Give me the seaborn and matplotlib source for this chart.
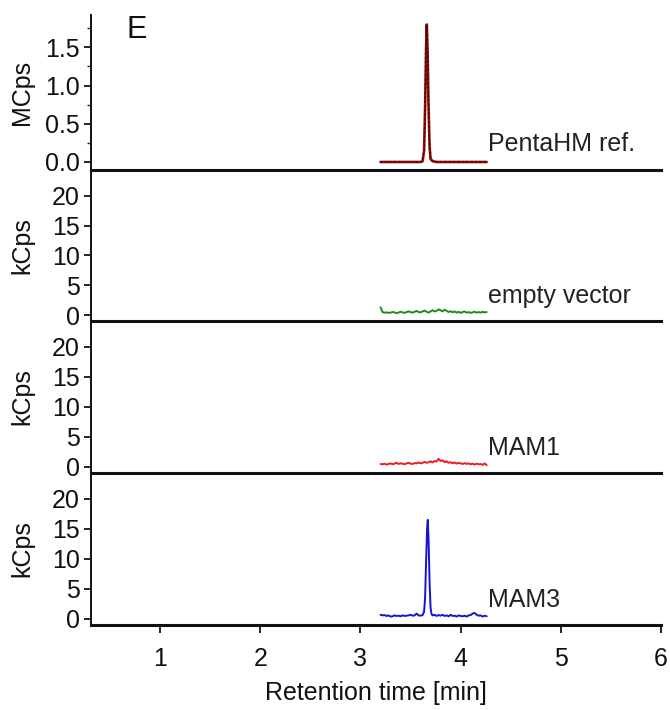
import matplotlib
matplotlib.use("Agg")
import matplotlib.pyplot as plt
from matplotlib.ticker import MultipleLocator
import seaborn as sns

# ---------------- data ----------------
panel_labels = ["PentaHM ref.", "empty vector", "MAM1", "MAM3"]
y_units = ["MCps", "kCps", "kCps", "kCps"]
x_ticks = [1, 2, 3, 4, 5, 6]

# PentaHM reference (MCps)
rt_ref = [3.20, 3.24, 3.28, 3.32, 3.36, 3.40, 3.44, 3.48, 3.52, 3.56, 3.60, 3.62,
          3.635, 3.645, 3.655, 3.662, 3.67, 3.68, 3.69, 3.70, 3.72, 3.76, 3.80,
          3.84, 3.88, 3.92, 3.96, 4.00, 4.04, 4.08, 4.12, 4.16, 4.20, 4.24, 4.26]
int_ref = [0.0, 0.0, 0.0, 0.0, 0.0, 0.0, 0.0, 0.0, 0.0, 0.0, 0.0, 0.01,
           0.15, 0.70, 1.50, 1.80, 1.45, 0.70, 0.20, 0.04, 0.01, 0.0, 0.0,
           0.0, 0.0, 0.0, 0.0, 0.0, 0.0, 0.0, 0.0, 0.0, 0.0, 0.0, 0.0]

# common retention time grid for the noise traces (min)
rt_noise = [3.20, 3.22, 3.24, 3.26, 3.28, 3.30, 3.32, 3.34, 3.36, 3.38, 3.40, 3.42,
            3.44, 3.46, 3.48, 3.50, 3.52, 3.54, 3.56, 3.58, 3.60, 3.62, 3.64, 3.66,
            3.68, 3.70, 3.72, 3.74, 3.76, 3.78, 3.80, 3.82, 3.84, 3.86, 3.88, 3.90,
            3.92, 3.94, 3.96, 3.98, 4.00, 4.02, 4.04, 4.06, 4.08, 4.10, 4.12, 4.14,
            4.16, 4.18, 4.20, 4.22, 4.24, 4.26]

# empty vector (kCps)
int_empty = [1.3, 0.5, 0.4, 0.45, 0.35, 0.4, 0.5, 0.45, 0.3, 0.4, 0.55, 0.45,
             0.35, 0.5, 0.6, 0.5, 0.4, 0.55, 0.7, 0.5, 0.45, 0.6, 0.75, 0.55,
             0.4, 0.6, 0.8, 0.6, 0.7, 0.95, 0.8, 0.6, 0.9, 0.7, 0.5, 0.65,
             0.45, 0.6, 0.4, 0.55, 0.35, 0.5, 0.6, 0.4, 0.5, 0.35, 0.45, 0.55,
             0.4, 0.5, 0.4, 0.55, 0.45, 0.5]

# MAM1 (kCps)
int_mam1 = [0.5, 0.45, 0.55, 0.4, 0.5, 0.6, 0.45, 0.55, 0.7, 0.5, 0.6, 0.55,
            0.45, 0.6, 0.7, 0.55, 0.5, 0.65, 0.6, 0.75, 0.6, 0.7, 0.85, 0.7,
            0.8, 0.95, 0.75, 1.0, 0.9, 1.35, 1.0, 1.1, 0.8, 0.95, 0.7, 0.8,
            0.6, 0.75, 0.55, 0.7, 0.6, 0.5, 0.65, 0.5, 0.6, 0.45, 0.55, 0.4,
            0.55, 0.45, 0.5, 0.35, 0.6, 0.3]

# MAM3 (kCps)
rt_mam3 = [3.20, 3.22, 3.24, 3.26, 3.28, 3.30, 3.32, 3.34, 3.36, 3.38, 3.40, 3.42,
           3.44, 3.46, 3.48, 3.50, 3.52, 3.54, 3.56, 3.58, 3.60, 3.62, 3.635, 3.645,
           3.655, 3.665, 3.672, 3.68, 3.69, 3.70, 3.71, 3.72, 3.74, 3.76, 3.78, 3.80,
           3.82, 3.84, 3.86, 3.88, 3.90, 3.92, 3.94, 3.96, 3.98, 4.00, 4.02, 4.04,
           4.06, 4.08, 4.10, 4.12, 4.14, 4.16, 4.18, 4.20, 4.22, 4.24, 4.26]
int_mam3 = [0.7, 0.6, 0.65, 0.5, 0.6, 0.4, 0.45, 0.6, 0.5, 0.55, 0.45, 0.6,
            0.5, 0.55, 0.6, 0.7, 0.55, 0.6, 0.9, 0.6, 0.55, 0.65, 1.2, 3.5,
            9.5, 15.0, 16.5, 13.0, 6.0, 1.8, 0.8, 0.6, 0.7, 0.5, 0.65, 0.55,
            0.7, 0.5, 0.6, 0.45, 0.7, 0.5, 0.55, 0.4, 0.6, 0.5, 0.45, 0.55,
            0.4, 0.6, 0.65, 0.9, 1.0, 0.7, 0.55, 0.6, 0.4, 0.55, 0.45]

# ---------------- style ----------------
sns.set_style("ticks")
plt.rcParams["font.family"] = ["Liberation Sans", "DejaVu Sans"]
FS = 18

fig = plt.figure(figsize=(6.7, 7.1), dpi=100)
W = 710.0
left, right = 91 / 670, 661 / 670
bounds = [(15, 170), (170, 321), (321, 473), (473, 625)]
axes = []
for top, bot in bounds:
    ax = fig.add_axes([left, 1 - bot / W, right - left, (bot - top) / W])
    ax.set_facecolor("none")
    axes.append(ax)

traces = [
    (rt_ref, int_ref, "#8e1010"),
    (rt_noise, int_empty, "#1e8c1e"),
    (rt_noise, int_mam1, "#ee1c1c"),
    (rt_mam3, int_mam3, "#1414d2"),
]

for i, (ax, (xs, ys, col)) in enumerate(zip(axes, traces)):
    sns.lineplot(x=xs, y=ys, ax=ax, color=col, lw=1.9 if i == 0 else 1.4)
    if i == 0:
        sns.lineplot(x=xs, y=ys, ax=ax, color="#4a0000", lw=0.9,
                     linestyle=(0, (2, 1.5)))
    ax.set_xlim(0.31, 6.0)
    for s in ["top", "right"]:
        ax.spines[s].set_visible(False)
    ax.spines["left"].set_linewidth(1.4)
    ax.spines["bottom"].set_linewidth(2.2)
    ax.spines["left"].set_color("#111111")
    ax.spines["bottom"].set_color("#111111")
    ax.spines["bottom"].set_zorder(5)
    ax.tick_params(axis="y", direction="out", length=5, width=1.3,
                   labelsize=FS, pad=3, colors="#111111")
    if i == 0:
        ax.set_ylim(-0.105, 1.924)
        ax.set_yticks([0.0, 0.5, 1.0, 1.5])
        ax.set_yticklabels(["0.0", "0.5", "1.0", "1.5"])
        ax.yaxis.set_minor_locator(MultipleLocator(0.25))
        ax.tick_params(axis="y", which="minor", length=3, width=1.0)
        ax.text(0.063, 0.852, "E", transform=ax.transAxes, fontsize=22,
                ha="left", va="baseline", color="#111111")
    else:
        ax.set_ylim(-1.0, 24.3)
        ax.set_yticks([0, 5, 10, 15, 20])
    ax.set_ylabel(y_units[i], fontsize=FS, color="#111111")
    ax.yaxis.set_label_coords(-0.1, 0.5)
    ax.text(4.27, 0.12, panel_labels[i], transform=ax.get_xaxis_transform(),
            fontsize=FS, ha="left", va="baseline", color="#222222")
    if i < 3:
        ax.set_xticks([])
        ax.set_xlabel("")
    else:
        ax.set_xticks(x_ticks)
        ax.tick_params(axis="x", direction="out", length=6, width=1.3,
                       labelsize=FS, pad=10, colors="#111111")
        ax.set_xlabel("Retention time [min]", fontsize=FS, labelpad=7,
                      color="#111111")

fig.savefig("out.png", dpi=100)
